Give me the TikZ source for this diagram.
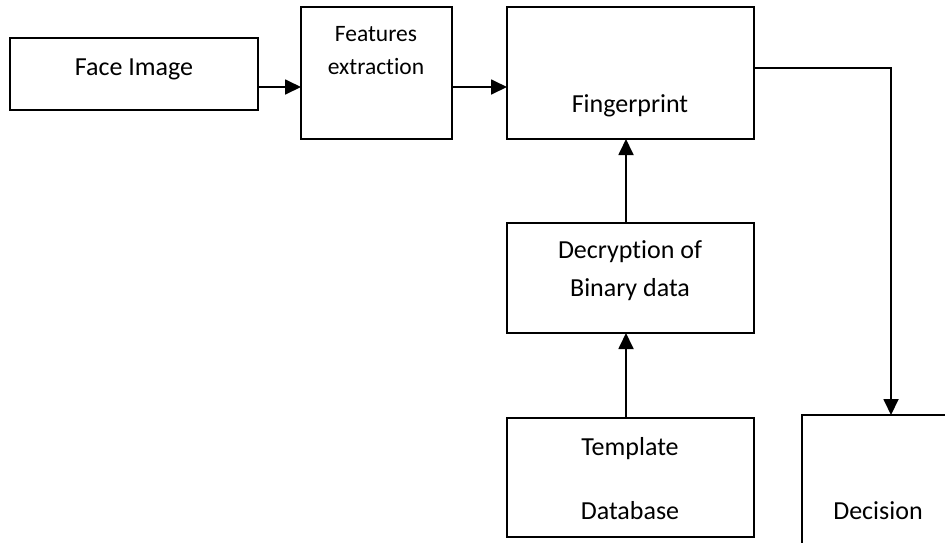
\documentclass[tikz,border=0pt]{standalone}
\usepackage{fontspec}
\setmainfont{Carlito}[Ligatures=NoCommon]
\usetikzlibrary{arrows.meta}
\begin{document}
\begin{tikzpicture}[x=1pt,y=-1pt,
  box/.style={draw=black,line width=1.8pt,inner sep=0pt,outer sep=0pt,rectangle},
  lbl/.style={font=\fontsize{26}{31}\selectfont,anchor=base,inner sep=0pt},
  lblsmall/.style={font=\fontsize{23.5}{28}\selectfont,anchor=base,inner sep=0pt},
  conn/.style={line width=1.8pt,-{Triangle[length=16pt,width=15pt]}}]
\clip (0,0) rectangle (945,542);
% boxes
\node[box,minimum width=248pt,minimum height=72pt] (face) at (134,74) {};
\node[box,minimum width=151pt,minimum height=132pt] (feat) at (376.5,73) {};
\node[box,minimum width=247pt,minimum height=132pt] (fp) at (630.5,73) {};
\node[box,minimum width=247pt,minimum height=110pt] (decr) at (630.5,278) {};
\node[box,minimum width=247pt,minimum height=119pt] (tmpl) at (630.5,477.5) {};
\node[box,minimum width=152pt,minimum height=160pt] (dec) at (878,495) {};
% labels
\node[lbl] (facet) at (134,75) {Face Image};
\node[lblsmall] (featt1) at (376,41) {Features};
\node[lblsmall] (featt2) at (376,74) {extraction};
\node[lbl] (fpt) at (630,112) {Fingerprint};
\node[lbl] (decrt1) at (630,258) {Decryption of};
\node[lbl] (decrt2) at (630,296) {Binary data};
\node[lbl] (tmplt1) at (630,455) {Template};
\node[lbl] (tmplt2) at (630,519) {Database};
\node[lbl] (dect) at (878,519) {Decision};
% connectors
\draw[conn] ([yshift=-13pt]face.east) -- ([yshift=-14pt]feat.west);
\draw[conn] ([yshift=-14pt]feat.east) -- ([yshift=-14pt]fp.west);
\draw[conn] ([xshift=-4.5pt]decr.north) -- ([xshift=-4.5pt]fp.south);
\draw[conn] ([xshift=-4.5pt]tmpl.north) -- ([xshift=-4.5pt]decr.south);
\draw[conn] ([yshift=5pt]fp.east) -| ([xshift=13pt]dec.north);
\end{tikzpicture}
\end{document}
